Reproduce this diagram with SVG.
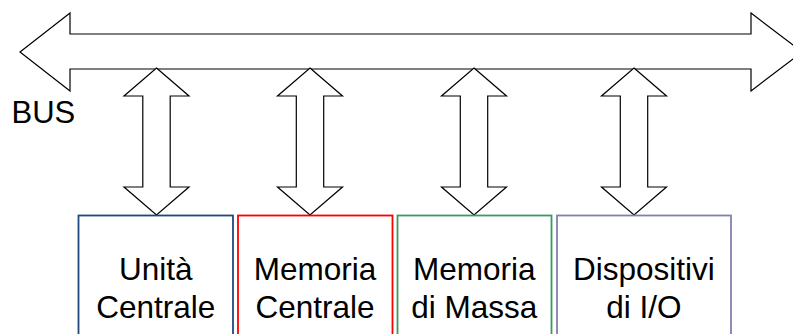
<svg xmlns="http://www.w3.org/2000/svg" width="793" height="334" viewBox="0 0 793 334">
<style>
.arr{fill:#fff;stroke:#000;stroke-width:1.2;stroke-linejoin:miter}
.box{fill:#fff;stroke-width:1.8}
.t{font-family:"Liberation Sans",Arial,sans-serif;font-size:31.5px;fill:#000;text-anchor:middle}
</style>
<rect width="793" height="334" fill="#fff"/>
<g id="connectors">
<polygon id="bus-arrow" class="arr" points="20,52 70,13 70,34 751,34 751,13 802,52 751,91 751,69 70,69 70,91"/>
<polygon id="v1" class="arr" points="156.5,68 189,96 170.2,96 170.2,187 189,187 156.5,215 124,187 142.8,187 142.8,96 124,96"/>
<polygon id="v2" class="arr" points="310,68 342.5,96 323.7,96 323.7,187 342.5,187 310,215 277.5,187 296.3,187 296.3,96 277.5,96"/>
<polygon id="v3" class="arr" points="474,68 506.5,96 487.7,96 487.7,187 506.5,187 474,215 441.5,187 460.3,187 460.3,96 441.5,96"/>
<polygon id="v4" class="arr" points="634,68 666.5,96 647.7,96 647.7,187 666.5,187 634,215 601.5,187 620.3,187 620.3,96 601.5,96"/>
</g>
<g id="bus-label">
<text x="11.5" y="123" font-family="Liberation Sans, Arial, sans-serif" font-size="31" fill="#000">BUS</text>
</g>
<g id="unita-centrale">
<rect class="box" x="78.5" y="215.5" width="154.5" height="130" stroke="#1F497D"/>
<text class="t" x="155.8" y="280">Unità</text>
<text class="t" x="155.8" y="318">Centrale</text>
</g>
<g id="memoria-centrale">
<rect class="box" x="238" y="215.5" width="154.5" height="130" stroke="#FF0000"/>
<text class="t" x="315" y="280">Memoria</text>
<text class="t" x="315" y="318">Centrale</text>
</g>
<g id="memoria-di-massa">
<rect class="box" x="397.5" y="215.5" width="154" height="130" stroke="#3A9A62"/>
<text class="t" x="474.2" y="280">Memoria</text>
<text class="t" x="474.2" y="318">di Massa</text>
</g>
<g id="dispositivi-io">
<rect class="box" x="557" y="215.5" width="174" height="130" stroke="#8080B0"/>
<text class="t" x="643.8" y="280">Dispositivi</text>
<text class="t" x="643.8" y="318">di I/O</text>
</g>
</svg>
